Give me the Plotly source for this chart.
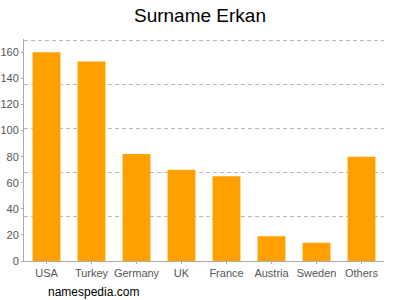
import plotly.graph_objects as go

categories = ["USA", "Turkey", "Germany", "UK", "France", "Austria", "Sweden", "Others"]
values = [160, 153, 82, 70, 65, 19, 14, 80]
tick_vals = [0, 20, 40, 60, 80, 100, 120, 140, 160]
y_max = 170.2
grid_vals = [33.8 * i for i in range(1, 6)]

fig = go.Figure()
fig.add_trace(go.Bar(x=categories, y=values, marker_color="#FFA000", marker_line_width=0))
fig.add_trace(go.Scatter(x=categories, y=values, yaxis="y2", mode="none", showlegend=False, hoverinfo="skip"))

fig.update_layout(
    width=400, height=300,
    margin=dict(l=24, r=16, t=39, b=39),
    paper_bgcolor="white", plot_bgcolor="white",
    showlegend=False,
    bargap=0.38,
    title=dict(text="Surname Erkan", x=0.5, xanchor="center", y=0.95, yanchor="middle",
               font=dict(family="Liberation Sans, Arial", size=19, color="#000")),
    font=dict(family="Liberation Sans, Arial", size=11, color="#555"),
    xaxis=dict(showline=True, linecolor="#aaa", linewidth=1, ticks="outside", ticklen=2,
               tickcolor="#aaa", showgrid=False, automargin=False),
    yaxis=dict(range=[0, y_max], tickvals=tick_vals, showline=True, linecolor="#aaa", linewidth=1,
               ticks="outside", ticklen=2, tickcolor="#aaa", showgrid=False, zeroline=False,
               automargin=False),
    yaxis2=dict(range=[0, y_max], overlaying="y", tickvals=grid_vals, showticklabels=False,
                showgrid=True, gridcolor="#bbb", griddash="4px,3px", gridwidth=1, zeroline=False,
                layer="below traces", automargin=False),
)
fig.add_annotation(text="namespedia.com", xref="paper", yref="paper", x=0.06, y=-0.1,
                   xanchor="left", yanchor="top", showarrow=False,
                   font=dict(family="Liberation Sans, Arial", size=12, color="#000"))
fig.write_html("out.html")
